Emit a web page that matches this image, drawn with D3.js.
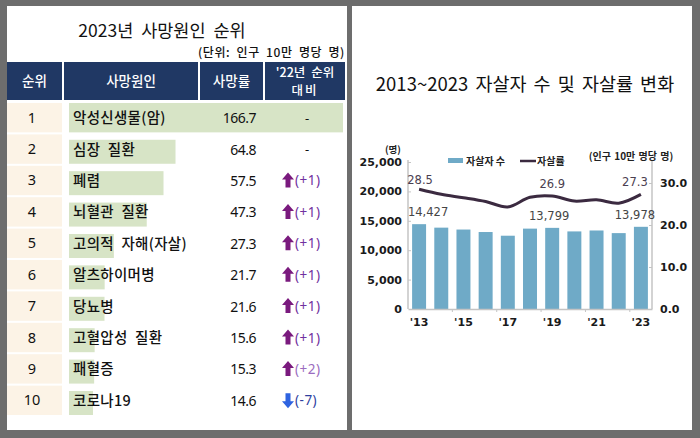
<!DOCTYPE html>
<html><head><meta charset="utf-8">
<script src="https://cdn.jsdelivr.net/npm/d3@7"></script>
<style>html,body{margin:0;padding:0;background:#6d6d6d;}svg{display:block;}</style>
</head><body>
<svg id="c" width="700" height="438"></svg>
<script>
// ---- Left table data ----
const ranks = [1,2,3,4,5,6,7,8,9,10];
const causes = ["악성신생물(암)","심장 질환","폐렴","뇌혈관 질환","고의적 자해(자살)","알츠하이머병","당뇨병","고혈압성 질환","패혈증","코로나19"];
const deathRates = [166.7,64.8,57.5,47.3,27.3,21.7,21.6,15.6,15.3,14.6];
const rankChange = [0,0,1,1,1,1,1,1,2,-7];
const headers = ["순위","사망원인","사망률"];

// ---- Right chart data ----
const years = ["2013","2014","2015","2016","2017","2018","2019","2020","2021","2022","2023"];
const xTickLabels = ["'13","","'15","","'17","","'19","","'21","","'23"];
const suicideCounts = [14427,13836,13513,13092,12463,13670,13799,13195,13352,12906,13978];
const suicideRates = [28.5,27.3,26.5,25.6,24.3,26.6,26.9,25.7,26.0,25.2,27.3];
const leftTicks = [0,5000,10000,15000,20000,25000];
const rightTicks = [0,10,20,30];
const labeledIdx = [0,6,10];

const svg = d3.select("#c");
const KR = "'Noto Sans CJK KR','Noto Sans',sans-serif";

// Panels
svg.append("rect").attr("x",0).attr("y",0).attr("width",700).attr("height",438).attr("fill","#6d6d6d");
svg.append("rect").attr("x",7).attr("y",6).attr("width",340).attr("height",424).attr("fill","#fff");
svg.append("rect").attr("x",352).attr("y",6).attr("width",340).attr("height",424).attr("fill","#fff");

// ===== LEFT TABLE =====
const L = svg.append("g");
L.append("text").attr("x",162).attr("y",37).attr("text-anchor","middle")
  .attr("font-family",KR).attr("font-size",17.5).attr("word-spacing",4).attr("fill","#111").text("2023년 사망원인 순위");
L.append("text").attr("x",345).attr("y",57).attr("text-anchor","end")
  .attr("font-family",KR).attr("font-size",12).attr("font-weight",500).attr("letter-spacing",0.6).attr("word-spacing",3).attr("fill","#111").text("(단위: 인구 10만 명당 명)");

const navy = "#203864";
const cols = [{x:7,w:55},{x:64,w:134},{x:200,w:63},{x:265,w:80}];
cols.forEach((c,i)=>{
  L.append("rect").attr("x",c.x).attr("y",62).attr("width",c.w).attr("height",38).attr("fill",navy);
});
headers.forEach((h,i)=>{
  L.append("text").attr("x",cols[i].x+cols[i].w/2).attr("y",86).attr("text-anchor","middle")
   .attr("font-family",KR).attr("font-size",13.5).attr("font-weight",500).attr("fill","#fff").text(h);
});
L.append("text").attr("x",305).attr("y",77).attr("text-anchor","middle")
  .attr("font-family",KR).attr("font-size",12.5).attr("font-weight",500).attr("word-spacing",3).attr("fill","#fff").text("'22년 순위");
L.append("text").attr("x",305).attr("y",95).attr("text-anchor","middle")
  .attr("font-family",KR).attr("font-size",12.5).attr("font-weight",500).attr("letter-spacing",2).attr("fill","#fff").text("대비");

const rowY = d3.scaleBand().domain(ranks).range([103,415]).paddingInner(0.065);
const barW = d3.scaleLinear().domain([0,166.7]).range([0,274]);
const rh = rowY.bandwidth();

const rows = L.selectAll("g.row").data(ranks).join("g").attr("class","row")
  .attr("transform",d=>`translate(0,${rowY(d)})`);
rows.append("rect").attr("x",7).attr("y",0).attr("width",55).attr("height",rh).attr("fill","#fcf3e6");
rows.append("rect").attr("x",69).attr("y",(d,i)=> i===0?0:rh-24).attr("width",(d,i)=>barW(deathRates[i]))
  .attr("height",(d,i)=> i===0?rh:24).attr("fill","#d7e4c6");
rows.append("text").attr("x",32).attr("y",rh/2+5).attr("text-anchor","middle")
  .attr("font-family","'Noto Sans',sans-serif").attr("font-size",14.5).attr("fill","#111").text(d=>d);
rows.append("text").attr("x",73).attr("y",rh/2+5.5)
  .attr("font-family",KR).attr("font-size",14.5).attr("font-weight",500).attr("letter-spacing",0.3).attr("word-spacing",4).attr("fill","#111").text((d,i)=>causes[i]);
rows.append("text").attr("x",256).attr("y",rh/2+5.5).attr("text-anchor","end")
  .attr("font-family","'Noto Sans',sans-serif").attr("font-size",14).attr("letter-spacing",-0.5).attr("fill","#111").text((d,i)=>deathRates[i].toFixed(1));

rows.each(function(d,i){
  const g = d3.select(this);
  const ch = rankChange[i];
  const cy = rh/2;
  if(ch===0){
    g.append("text").attr("x",307).attr("y",cy+5).attr("text-anchor","middle")
     .attr("font-family","'Noto Sans',sans-serif").attr("font-size",13).attr("fill","#111").text("-");
  } else {
    const up = ch>0;
    const col = up ? "#7a1a7e" : "#2e63e0";
    const ax = 288;
    const p = up
      ? `M${ax},${cy-8} L${ax+6},${cy-1} L${ax+2.5},${cy-1} L${ax+2.5},${cy+7} L${ax-2.5},${cy+7} L${ax-2.5},${cy-1} L${ax-6},${cy-1} Z`
      : `M${ax},${cy+8} L${ax+6},${cy+1} L${ax+2.5},${cy+1} L${ax+2.5},${cy-7} L${ax-2.5},${cy-7} L${ax-2.5},${cy+1} L${ax-6},${cy+1} Z`;
    g.append("path").attr("d",p).attr("fill",col);
    g.append("text").attr("x",295).attr("y",cy+5)
     .attr("font-family","'Noto Sans',sans-serif").attr("font-size",13.5).attr("letter-spacing",0.5)
     .attr("fill", up ? (ch===2?"#9b6cc0":"#7030a0") : "#2f3f9f")
     .text(up?`(+${ch})`:`(${ch})`);
  }
});

// ===== RIGHT CHART =====
const R = svg.append("g");
R.append("text").attr("x",525).attr("y",91).attr("text-anchor","middle")
  .attr("font-family",KR).attr("font-size",18.5).attr("word-spacing",3).attr("fill","#111").text("2013~2023 자살자 수 및 자살률 변화");

const x0 = 408, x1 = 652, yTop = 162, yBot = 309;
const x = d3.scaleBand().domain(years).range([x0,x1]).paddingInner(0.37).paddingOuter(0.185);
const yL = d3.scaleLinear().domain([0,25000]).range([yBot,yTop]);
const yR = d3.scaleLinear().domain([0,35]).range([yBot,yTop]);
const cx = d=>x(d)+x.bandwidth()/2;
const AX = "'DejaVu Sans',sans-serif";

// bars
R.selectAll("rect.bar").data(years).join("rect").attr("class","bar")
  .attr("x",d=>x(d)).attr("width",x.bandwidth())
  .attr("y",(d,i)=>yL(suicideCounts[i])).attr("height",(d,i)=>yBot-yL(suicideCounts[i]))
  .attr("fill","#6faac7");

// axes
const gL = R.append("g").attr("transform",`translate(${x0},0)`)
  .call(d3.axisLeft(yL).tickValues(leftTicks).tickFormat(d3.format(",")).tickSize(-3).tickPadding(6));
const gR = R.append("g").attr("transform",`translate(${x1},0)`)
  .call(d3.axisRight(yR).tickValues(rightTicks).tickFormat(d3.format(".1f")).tickSize(-3).tickPadding(8));
[gL,gR].forEach(g=>{
  g.select(".domain").attr("stroke","#c4c4c4").attr("stroke-width",1.5).attr("d",`M0,${yTop-2}V${yBot}`);
  g.selectAll(".tick line").attr("stroke","#c4c4c4");
  g.selectAll(".tick text").attr("font-family",AX).attr("font-size",11).attr("font-weight","bold").attr("fill","#1a1a1a");
});
gL.selectAll(".tick").filter(d=>d===0).select("line").remove();
gR.selectAll(".tick").filter(d=>d===0).select("line").remove();

const gX = R.append("g").attr("transform",`translate(0,${yBot})`)
  .call(d3.axisBottom(x).tickFormat((d,i)=>xTickLabels[i]).tickSize(0).tickPadding(9));
gX.select(".domain").attr("stroke","#c4c4c4").attr("stroke-width",1.5);
gX.selectAll(".tick text").attr("font-family",AX).attr("font-size",11).attr("font-weight","bold").attr("fill","#1a1a1a");
// minor ticks between pairs
[1,3,5,7,9].forEach(i=>{
  const bx = (cx(years[i])+cx(years[i+1]))/2;
  R.append("line").attr("x1",bx).attr("x2",bx).attr("y1",yBot).attr("y2",yBot+3).attr("stroke","#c4c4c4");
});

// line
const line = d3.line().x((d,i)=>cx(years[i])).y(d=>yR(d)).curve(d3.curveCatmullRom.alpha(0.5));
R.append("path").datum(suicideRates).attr("d",line).attr("fill","none")
  .attr("stroke","#3b2a40").attr("stroke-width",3);

// labels
const lineDx = {0:1, 6:0, 10:-6};
const barDx = {0:9, 6:-3, 10:-6};
labeledIdx.forEach(i=>{
  R.append("text").attr("x",cx(years[i])+lineDx[i]).attr("y",yR(suicideRates[i])-(i===0?5:8)).attr("text-anchor","middle")
   .attr("font-family",AX).attr("font-size",11.5).attr("fill","#4a4050").text(suicideRates[i].toFixed(1));
  R.append("text").attr("x",cx(years[i])+barDx[i]).attr("y",yL(suicideCounts[i])-8).attr("text-anchor","middle")
   .attr("font-family",AX).attr("font-size",11.5).attr("fill","#454545").text(d3.format(",")(suicideCounts[i]));
});

// unit labels
R.append("text").attr("x",393).attr("y",153).attr("text-anchor","middle")
  .attr("font-family",KR).attr("font-size",9.5).attr("font-weight",700).attr("fill","#222").text("(명)");
R.append("text").attr("x",631).attr("y",160).attr("text-anchor","middle")
  .attr("font-family",KR).attr("font-size",10).attr("font-weight",700).attr("word-spacing",1).attr("fill","#222").text("(인구 10만 명당 명)");

// legend
R.append("rect").attr("x",448).attr("y",158).attr("width",15).attr("height",5).attr("fill","#6faac7");
R.append("text").attr("x",466).attr("y",164.5).attr("font-family",KR).attr("font-size",10).attr("font-weight",700).attr("fill","#222").text("자살자 수");
R.append("line").attr("x1",520).attr("x2",536).attr("y1",161).attr("y2",161).attr("stroke","#3b2a40").attr("stroke-width",2.5);
R.append("text").attr("x",537).attr("y",164.5).attr("font-family",KR).attr("font-size",10).attr("font-weight",700).attr("fill","#222").text("자살률");
</script>
</body></html>
